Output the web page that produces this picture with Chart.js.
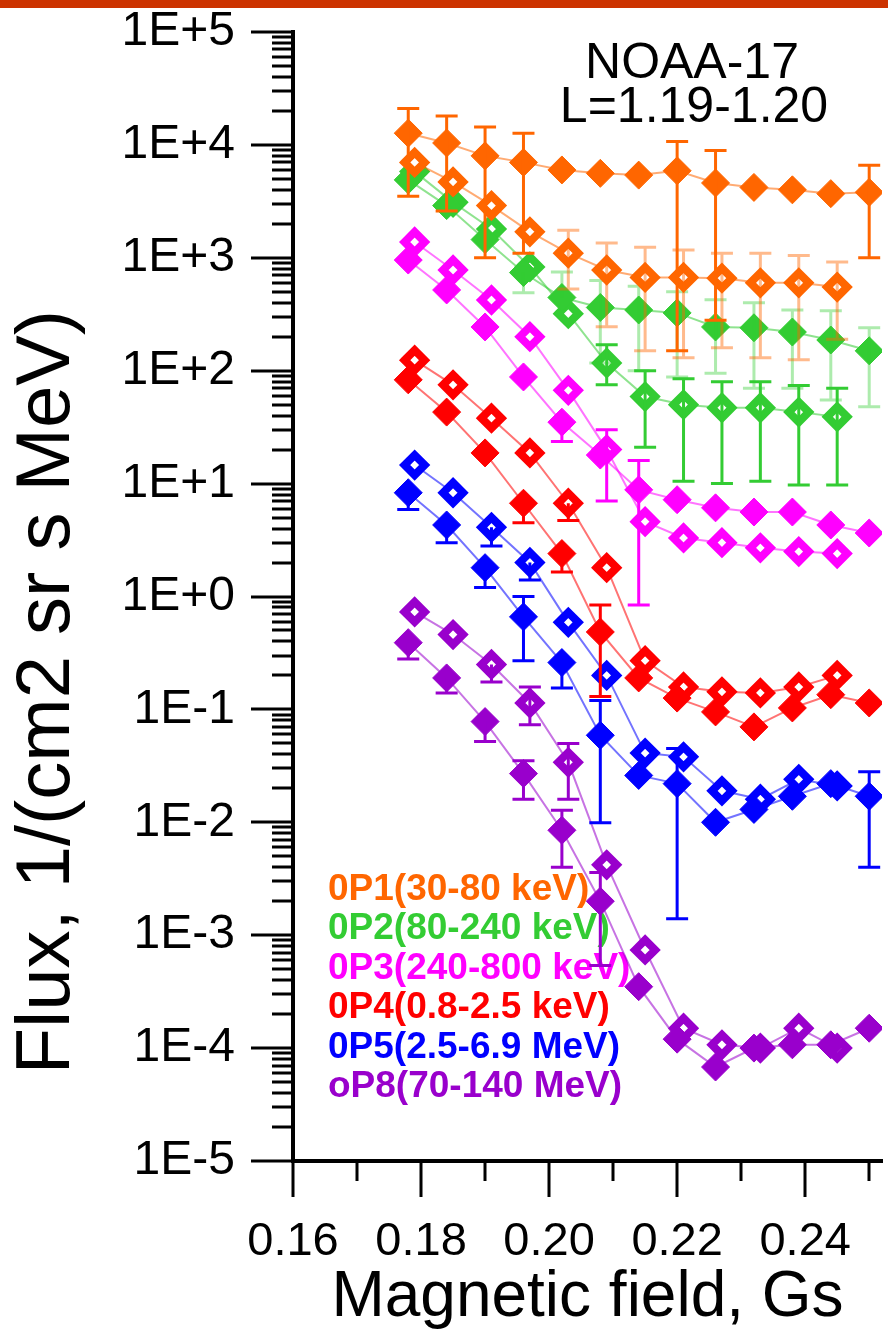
<!DOCTYPE html>
<html>
<head>
<meta charset="utf-8">
<script src="https://cdn.jsdelivr.net/npm/chart.js@4.4.1/dist/chart.umd.min.js"></script>
<style>
  html, body { margin: 0; padding: 0; background: #fff; overflow: hidden; }
  #wrap { position: relative; width: 888px; height: 1330px; overflow: hidden; }
  #topbar { position: absolute; left: 0; top: 0; width: 888px; height: 8px; background: #cc3300; z-index: 2; }
  canvas { position: absolute; left: 0; top: 0; }
</style>
</head>
<body>
<div id="wrap">
  <canvas id="fluxChart" width="900" height="1330"></canvas>
  <div id="topbar"></div>
</div>
<script>
const FONT = '"Liberation Sans", Arial, sans-serif';

// magnetic field values, full (filled) and open markers
const xFilled = [0.178, 0.184, 0.190, 0.196, 0.202, 0.208, 0.214, 0.220, 0.226, 0.232, 0.238, 0.244, 0.250];
const xOpen = [0.179, 0.185, 0.191, 0.197, 0.203, 0.209, 0.215, 0.221, 0.227, 0.233, 0.239, 0.245];

// OP1 (30-80 keV)
const p1Full = [12700, 10400, 8000, 7000, 6000, 5600, 5400, 5900, 4600, 4200, 4000, 3700, 3800];
const p1FullLo = [3500, 2600, 1000, 1100, null, null, null, 150, 280, null, null, null, 1000];
const p1FullHi = [21000, 18000, 14400, 12700, null, null, null, 10700, 8900, null, null, null, 6600];
const p1Open = [7000, 4700, 2900, 1700, 1100, 780, 670, 670, 660, 600, 600, 550];
const p1OpenLo = [null, null, null, null, 530, 245, 150, 130, 160, 130, 125, 190];
const p1OpenHi = [null, null, null, null, 1750, 1350, 1240, 1170, 1100, 1100, 1050, 920];

// OP2 (80-240 keV)
const p2Full = [4900, 2900, 1450, 740, 445, 363, 345, 325, 244, 240, 220, 187, 150];
const p2FullLo = [null, null, null, 490, null, 117, 100, 88, 95, 70, 70, 55, 48];
const p2FullHi = [null, null, null, null, 750, 630, 560, 500, 425, 400, 345, 340, 240];
const p2Open = [5800, 3100, 1800, 830, 320, 117, 59, 50, 47, 47, 43, 39];
const p2OpenLo = [null, null, null, null, null, 75, 21, 10.5, 10, 10.5, 9.7, 9.7];
const p2OpenHi = [null, null, null, null, null, 170, 100, 85, 80, 80, 74, 70];

// OP3 (240-800 keV)
const p3Full = [955, 519, 244, 88, 35, 17.9, 8.8, 7.2, 6.1, 5.6, 5.6, 4.3, 3.65];
const p3FullLo = [null, null, null, null, 23.6, null, 0.84, null, null, null, null, null, null];
const p3FullHi = [null, null, null, null, null, null, 16, null, null, null, null, null, null];
const p3Open = [1380, 780, 423, 200, 67, 20, 4.6, 3.3, 3.0, 2.7, 2.5, 2.4];
const p3OpenLo = [null, null, null, null, null, 7, null, null, null, null, null, null];
const p3OpenHi = [null, null, null, null, null, 30, null, null, null, null, null, null];

// OP4 (0.8-2.5 keV)
const p4Full = [83, 43, 18.7, 6.7, 2.4, 0.485, 0.19, 0.126, 0.095, 0.07, 0.103, 0.135, 0.114];
const p4FullLo = [null, null, null, 4.5, 1.65, 0.13, null, null, null, null, null, null, null];
const p4FullHi = [null, null, null, null, null, 0.84, null, null, null, null, null, null, null];
const p4Open = [124, 75, 38, 18.7, 6.7, 1.8, 0.27, 0.158, 0.143, 0.14, 0.158, 0.2];
const p4OpenLo = [null, null, null, null, 4.7, null, null, null, null, null, null, null];
const p4OpenHi = [null, null, null, null, null, null, null, null, null, null, null, null];

// OP5 (2.5-6.9 MeV)
const p5Full = [8.3, 4.3, 1.8, 0.66, 0.26, 0.059, 0.026, 0.022, 0.01, 0.013, 0.017, 0.022, 0.017];
const p5FullLo = [5.9, 3.0, 1.2, 0.27, 0.155, 0.0099, null, 0.0014, null, null, null, null, 0.004];
const p5FullHi = [null, null, null, 1.0, null, 0.12, null, 0.045, null, null, null, null, 0.028];
const p5Open = [14.6, 8.3, 4.1, 2.0, 0.59, 0.2, 0.041, 0.038, 0.019, 0.016, 0.024, 0.021];
const p5OpenLo = [null, null, 2.8, 1.4, null, null, null, null, null, null, null, null];
const p5OpenHi = [null, null, null, null, null, null, null, null, null, null, null, null];

// P8 (70-140 MeV)
const p8Full = [0.39, 0.19, 0.078, 0.027, 0.0085, 0.002, 0.00035, 0.00012, 0.000068, 0.0001, 0.000107, 0.000107, 0.00015];
const p8FullLo = [0.28, 0.14, 0.052, 0.016, 0.004, 0.00054, null, null, null, null, null, null, null];
const p8FullHi = [null, null, null, 0.035, 0.0128, 0.0036, null, null, null, null, null, null, null];
const p8Open = [0.73, 0.46, 0.25, 0.114, 0.034, 0.0042, 0.00074, 0.00015, 0.000107, 0.0001, 0.00015, 0.0001];
const p8OpenLo = [null, null, 0.175, 0.073, 0.016, null, null, null, null, null, null, null];
const p8OpenHi = [null, null, null, 0.158, 0.05, null, null, null, null, null, null, null];

const legendLabels = ['0P1(30-80 keV)', '0P2(80-240 keV)', '0P3(240-800 keV)', '0P4(0.8-2.5 keV)', '0P5(2.5-6.9 MeV)', 'oP8(70-140 MeV)'];
const colors = ['255,102,0', '51,204,51', '255,0,255', '255,0,0', '0,0,255', '153,0,204'];

const xTicks = [0.16, 0.18, 0.20, 0.22, 0.24];
const xTickLabels = ['0.16', '0.18', '0.20', '0.22', '0.24'];
const yDecades = [-5, -4, -3, -2, -1, 0, 1, 2, 3, 4, 5];
const yTickLabels = ['1E-5', '1E-4', '1E-3', '1E-2', '1E-1', '1E+0', '1E+1', '1E+2', '1E+3', '1E+4', '1E+5'];
const titleLines = ['NOAA-17', 'L=1.19-1.20'];

function series(xs, ys, lo, hi, c, open, errAlpha) {
  return {
    data: xs.map((x, i) => ({x: x, y: ys[i]})),
    showLine: true,
    borderColor: 'rgba(' + c + ',0.55)',
    borderWidth: 2,
    tension: 0,
    pointStyle: 'rectRot',
    pointRadius: open ? 10 : 14,
    pointBorderWidth: open ? 8 : 1,
    pointBackgroundColor: open ? '#ffffff' : 'rgb(' + c + ')',
    pointBorderColor: 'rgb(' + c + ')',
    errLo: lo,
    errHi: hi,
    errColor: 'rgba(' + c + ',' + errAlpha + ')'
  };
}

const datasets = [
  series(xFilled, p1Full, p1FullLo, p1FullHi, colors[0], false, 1),
  series(xOpen, p1Open, p1OpenLo, p1OpenHi, colors[0], true, 0.45),
  series(xFilled, p2Full, p2FullLo, p2FullHi, colors[1], false, 0.4),
  series(xOpen, p2Open, p2OpenLo, p2OpenHi, colors[1], true, 1),
  series(xFilled, p3Full, p3FullLo, p3FullHi, colors[2], false, 1),
  series(xOpen, p3Open, p3OpenLo, p3OpenHi, colors[2], true, 1),
  series(xFilled, p4Full, p4FullLo, p4FullHi, colors[3], false, 1),
  series(xOpen, p4Open, p4OpenLo, p4OpenHi, colors[3], true, 1),
  series(xFilled, p5Full, p5FullLo, p5FullHi, colors[4], false, 1),
  series(xOpen, p5Open, p5OpenLo, p5OpenHi, colors[4], true, 1),
  series(xFilled, p8Full, p8FullLo, p8FullHi, colors[5], false, 1),
  series(xOpen, p8Open, p8OpenLo, p8OpenHi, colors[5], true, 1)
];

// vertical error bars with caps, drawn right after each dataset
const errorBars = {
  id: 'errorBars',
  afterDatasetDraw(chart, args) {
    const ds = chart.data.datasets[args.index];
    if (!ds.errLo) return;
    const ctx = chart.ctx, xs = chart.scales.x, ys = chart.scales.y;
    ctx.save();
    ctx.strokeStyle = ds.errColor;
    ctx.lineWidth = 3;
    ds.data.forEach((p, i) => {
      const lo = ds.errLo[i], hi = ds.errHi[i];
      if (lo == null && hi == null) return;
      const px = xs.getPixelForValue(p.x);
      const py = ys.getPixelForValue(p.y);
      const yl = lo != null ? ys.getPixelForValue(lo) : py;
      const yh = hi != null ? ys.getPixelForValue(hi) : py;
      ctx.beginPath();
      ctx.moveTo(px, yl);
      ctx.lineTo(px, yh);
      if (lo != null) { ctx.moveTo(px - 11, yl); ctx.lineTo(px + 11, yl); }
      if (hi != null) { ctx.moveTo(px - 11, yh); ctx.lineTo(px + 11, yh); }
      ctx.stroke();
    });
    ctx.restore();
  }
};

// major + minor tick marks on both axes
const axisTicks = {
  id: 'axisTicks',
  afterDraw(chart) {
    const {ctx, chartArea: a} = chart;
    const x = chart.scales.x, y = chart.scales.y;
    ctx.save();
    ctx.strokeStyle = '#000';
    ctx.lineWidth = 3;
    ctx.beginPath();
    yDecades.forEach(e => {
      for (let k = 1; k <= 9; k++) {
        const v = k * Math.pow(10, e);
        if (v > 1.0001e5) break;
        const py = Math.round(y.getPixelForValue(v));
        ctx.moveTo(a.left, py);
        ctx.lineTo(a.left - (k === 1 ? 42 : 21), py);
      }
    });
    for (let k = 16; k <= 25; k++) {
      const px = Math.round(x.getPixelForValue(k / 100));
      ctx.moveTo(px, a.bottom);
      ctx.lineTo(px, a.bottom + (k % 2 === 0 ? 36 : 20));
    }
    ctx.stroke();
    ctx.restore();
  }
};

// in-plot texts: satellite title, legend, y axis title
const plotTexts = {
  id: 'plotTexts',
  beforeDatasetsDraw(chart) {
    const ctx = chart.ctx;
    ctx.save();
    ctx.fillStyle = '#000';
    ctx.textAlign = 'center';
    ctx.textBaseline = 'alphabetic';
    ctx.font = '50px ' + FONT;
    ctx.fillText(titleLines[0], 692, 78);
    ctx.fillText(titleLines[1], 694, 122);

    ctx.textAlign = 'left';
    ctx.font = 'bold 37px ' + FONT;
    legendLabels.forEach((t, i) => {
      ctx.fillStyle = 'rgb(' + colors[i] + ')';
      ctx.fillText(t, 328, 900 + i * 39.4);
    });

    ctx.fillStyle = '#000';
    ctx.translate(48, 692);
    ctx.rotate(-Math.PI / 2);
    ctx.textAlign = 'center';
    ctx.textBaseline = 'middle';
    ctx.font = '76px ' + FONT;
    ctx.fillText('Flux, 1/(cm2 sr s MeV)', 0, 0);
    ctx.restore();
  }
};

const fluxChart = new Chart(document.getElementById('fluxChart'), {
  type: 'line',
  data: { datasets: datasets },
  options: {
    responsive: false,
    animation: false,
    devicePixelRatio: 1,
    layout: { padding: { top: 32, right: 3, bottom: 0, left: 0 } },
    plugins: {
      legend: { display: false },
      tooltip: { enabled: false }
    },
    scales: {
      x: {
        type: 'linear',
        min: 0.16,
        max: 0.252,
        grid: { display: false, drawTicks: false },
        border: { display: true, color: '#000', width: 4 },
        afterBuildTicks: s => { s.ticks = xTicks.map(v => ({value: v})); },
        afterFit: s => { s.height = 169; s.paddingLeft = 0; s.paddingRight = 0; },
        ticks: {
          callback: (v, i) => xTickLabels[i],
          padding: 53,
          color: '#000',
          autoSkip: false,
          maxRotation: 0,
          font: { family: FONT, size: 47 }
        },
        title: {
          display: true,
          text: 'Magnetic field, Gs',
          color: '#000',
          padding: 0,
          font: { family: FONT, size: 64, lineHeight: 1 }
        }
      },
      y: {
        type: 'logarithmic',
        min: 1e-5,
        max: 1e5,
        grid: { display: false, drawTicks: false },
        border: { display: true, color: '#000', width: 4 },
        afterBuildTicks: s => { s.ticks = yDecades.map(e => ({value: Math.pow(10, e), major: true})); },
        afterFit: s => { s.width = 293; s.paddingTop = 0; s.paddingBottom = 0; },
        ticks: {
          callback: (v, i) => yTickLabels[i],
          padding: 58,
          color: '#000',
          autoSkip: false,
          font: { family: FONT, size: 48 }
        }
      }
    }
  },
  plugins: [plotTexts, errorBars, axisTicks]
});
</script>
</body>
</html>
